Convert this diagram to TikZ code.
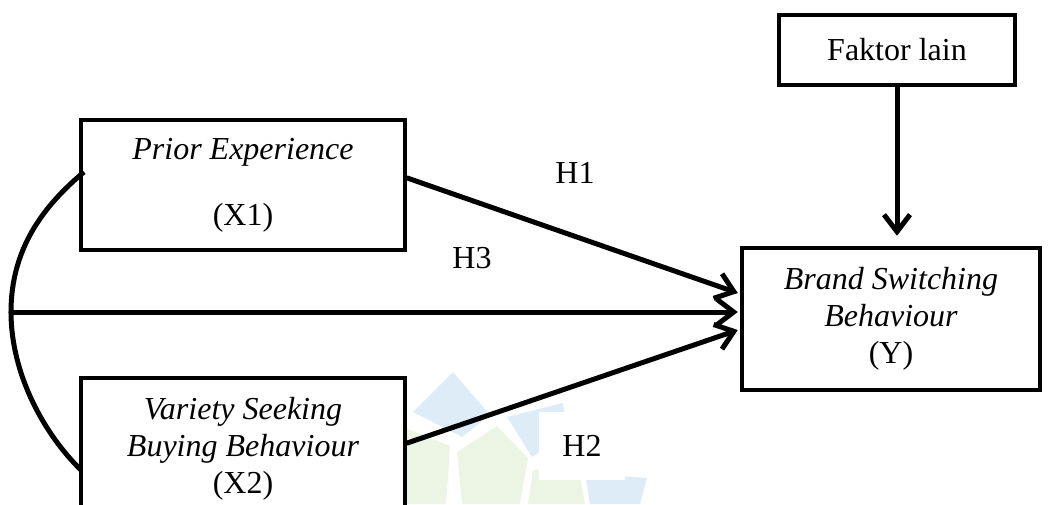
\documentclass[tikz,border=0pt]{standalone}
\usepackage{fontspec}
\setmainfont{Liberation Serif}
\usetikzlibrary{arrows.meta,calc}
\definecolor{wmblue}{RGB}{222,236,248}
\definecolor{wmgreen}{RGB}{236,245,228}
\tikzset{
  box/.style={draw, line width=4.5pt, rectangle, align=center, inner sep=0pt,
    font=\fontsize{32}{37}\selectfont},
  conn/.style={line width=5pt, line cap=round,
    -{Straight Barb[length=17pt,width=26pt,line width=5pt]}},
  lbl/.style={font=\fontsize{32}{37}\selectfont, inner sep=0pt}
}
\begin{document}
\begin{tikzpicture}[x=1pt,y=-1pt]
\useasboundingbox (0,0) rectangle (1056,504);
\clip (0,0) rectangle (1056,504);
% faint watermark
\fill[wmblue] (413,412) -- (453,372) -- (490,415) -- (462,437) -- cycle;
\fill[wmblue] (507,417) -- (563,403) -- (568,432) -- (532,457) -- cycle;
\fill[wmgreen] (457,452) -- (497,426) -- (528,458) -- (520,504) -- (462,504) -- cycle;
\fill[wmgreen] (405,428) -- (450,446) -- (446,504) -- (405,504) -- cycle;
\fill[wmgreen] (533,470) -- (578,466) -- (585,504) -- (528,504) -- cycle;
\fill[wmblue] (585,473) -- (647,478) -- (640,504) -- (590,504) -- cycle;
% nodes
\node[box, minimum width=324pt, minimum height=130pt] (px) at (243,185)
  {\textit{Prior Experience}\\[29pt](X1)};
\node[box, minimum width=324pt, minimum height=142pt] (vsb) at (243,449)
  {\textit{Variety Seeking}\\\textit{Buying Behaviour}\\(X2)};
\node[box, minimum width=298pt, minimum height=142pt] (y) at (891,319)
  {\textit{Brand Switching}\\\textit{Behaviour}\\(Y)};
\node[box, minimum width=236pt, minimum height=70pt] (fl) at (897,50)
  {Faktor lain};
% curve coordinates
\coordinate (c1) at (84,172);
\coordinate (cm) at (11,312);
\coordinate (c2) at (81,470);
\draw[line width=5pt] (c1) .. controls (42,207) and (11,250) .. (cm)
  .. controls (11,375) and (45,435) .. (c2);
% connectors
\draw[conn] (fl.south) -- ($(fl.south |- y.north)+(0,-10)$);
\draw[conn] ($(px.east)+(0,-7)$) -- ($(y.west)+(-2,-26)$);
\draw[conn] (cm) -- ($(y.west)+(-2,-7)$);
\draw[conn] ($(vsb.east)+(0,-6)$) -- ($(y.west)+(-2,11)$);
% labels
\node[lbl] (h1) at (575,173) {H1};
\node[lbl] (h3) at (472,258) {H3};
\node[lbl, fill=white, minimum width=86pt, minimum height=68pt] (h2) at (582,446) {H2};
\end{tikzpicture}
\end{document}
